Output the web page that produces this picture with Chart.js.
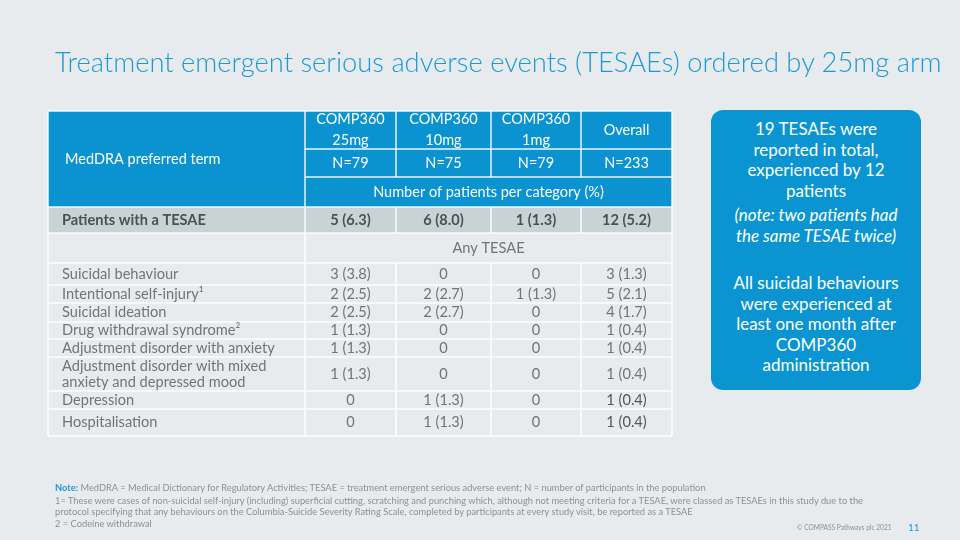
<!DOCTYPE html>
<html lang="en">
<head>
    <meta charset="UTF-8">
    <title>TESAEs ordered by 25mg arm</title>
    <style>
        body {
            margin: 0;
            width: 960px;
            height: 540px;
            background: #e8ebee;
            font-family: Lato, "Open Sans", sans-serif;
            position: relative;
            overflow: hidden;
        }
        #table {
            position: absolute;
            left: 0;
            top: 0;
        }
        .title {
            position: absolute;
            left: 55px;
            top: 62px;
            transform: translateY(-50%);
            font-size: 28px;
            font-weight: 300;
            line-height: 34px;
            color: #1b9ad6;
            white-space: nowrap;
        }
        .box {
            position: absolute;
            left: 711px;
            top: 110px;
            width: 210px;
            height: 280px;
            border-radius: 12px;
            background: #0a95d2;
            color: #fff;
            text-align: center;
            font-size: 17px;
            line-height: 20.5px;
            box-sizing: border-box;
            padding-top: 9px;
        }
        .box .note {
            font-style: italic;
            margin-top: 4px;
        }
        .box .second {
            margin-top: 27px;
        }
        .foot {
            position: absolute;
            left: 55px;
            top: 482px;
            font-size: 9.3px;
            line-height: 11.7px;
            color: #8c9196;
            width: 880px;
            white-space: nowrap;
        }
        .foot b {
            color: #1b9ad6;
        }
        .copy {
            position: absolute;
            left: 797px;
            top: 523px;
            font-size: 6.6px;
            color: #8c9196;
            white-space: nowrap;
        }
        .page {
            position: absolute;
            left: 908px;
            top: 521px;
            font-size: 10px;
            color: #1b9ad6;
        }
    </style>
</head>
<body>
    <canvas id="table" width="960" height="540"></canvas>

    <div class="title" id="title">Treatment emergent serious adverse events (TESAEs) ordered by 25mg arm</div>

    <div class="box">
        <div>19 TESAEs were<br>reported in total,<br>experienced by 12<br>patients</div>
        <div class="note">(note: two patients had<br>the same TESAE twice)</div>
        <div class="second">All suicidal behaviours<br>were experienced at<br>least one month after<br>COMP360<br>administration</div>
    </div>

    <div class="foot">
        <div><b>Note:</b> MedDRA = Medical Dictionary for Regulatory Activities; TESAE = treatment emergent serious adverse event; N = number of participants in the population</div>
        <div style="margin-top:1px">1= These were cases of non-suicidal self-injury (including) superficial cutting, scratching and punching which, although not meeting criteria for a TESAE, were classed as TESAEs in this study due to the<br>protocol specifying that any behaviours on the Columbia-Suicide Severity Rating Scale, completed by participants at every study visit, be reported as a TESAE</div>
        <div>2 = Codeine withdrawal</div>
    </div>
    <div class="copy">© COMPASS Pathways plc 2021</div>
    <div class="page">11</div>

    <script src="https://cdn.jsdelivr.net/npm/chart.js"></script>
    <script>
        // Dữ liệu bảng
        const armNames = ['COMP360\n25mg', 'COMP360\n10mg', 'COMP360\n1mg', 'Overall'];
        const armN = [79, 75, 79, 233];
        const anyCount = [5, 6, 1, 12];
        const anyPct = [6.3, 8.0, 1.3, 5.2];

        const terms = [
            'Suicidal behaviour',
            'Intentional self-injury¹',
            'Suicidal ideation',
            'Drug withdrawal syndrome²',
            'Adjustment disorder with anxiety',
            'Adjustment disorder with mixed\nanxiety and depressed mood',
            'Depression',
            'Hospitalisation'
        ];
        const count25 = [3, 2, 2, 1, 1, 1, 0, 0];
        const pct25 = [3.8, 2.5, 2.5, 1.3, 1.3, 1.3, 0, 0];
        const count10 = [0, 2, 2, 0, 0, 0, 1, 1];
        const pct10 = [0, 2.7, 2.7, 0, 0, 0, 1.3, 1.3];
        const count1 = [0, 1, 0, 0, 0, 0, 0, 0];
        const pct1 = [0, 1.3, 0, 0, 0, 0, 0, 0];
        const countAll = [3, 5, 4, 1, 1, 1, 1, 1];
        const pctAll = [1.3, 2.1, 1.7, 0.4, 0.4, 0.4, 0.4, 0.4];

        // Bố cục (đơn vị của trục)
        const colEdges = [0, 257, 348, 443, 533, 624];
        const rowEdges = [0, 38, 66, 96, 122, 152, 174, 192, 211, 228, 246, 280, 298, 325];

        const styles = {
            header: { font: '14.5px Lato', color: '#ffffff', lh: 21 },
            bold: { font: 'bold 14.6px Lato', color: '#4a5057', lh: 16 },
            body: { font: '14.6px Lato', color: '#707579', lh: 16 },
            dark: { font: '14.6px Lato', color: '#50565c', lh: 16 }
        };

        // Thu nhỏ tiêu đề cho vừa chiều rộng như bản gốc
        const titleEl = document.getElementById('title');
        titleEl.style.fontSize = (28 * 887 / titleEl.scrollWidth).toFixed(2) + 'px';

        function fmt(n, p) {
            return n === 0 ? '0' : n + ' (' + p.toFixed(1) + ')';
        }

        // Tạo danh sách ô: cột từ c0 đến c1, hàng từ r0 đến r1
        const cells = [];
        function addCell(c0, c1, r0, r1, text, style, align) {
            cells.push({ c0, c1, r0, r1, text, style, align: align || 'center' });
        }

        addCell(0, 1, 0, 3, 'MedDRA preferred term', 'header', 'left');
        armNames.forEach((name, i) => {
            addCell(i + 1, i + 2, 0, 1, name, 'header');
            addCell(i + 1, i + 2, 1, 2, 'N=' + armN[i], 'header');
        });
        addCell(1, 5, 2, 3, 'Number of patients per category (%)', 'header');
        addCell(0, 1, 3, 4, 'Patients with a TESAE', 'bold', 'left');
        anyCount.forEach((n, i) => addCell(i + 1, i + 2, 3, 4, fmt(n, anyPct[i]), 'bold'));
        addCell(1, 5, 4, 5, 'Any TESAE', 'body');

        const armCols = [[count25, pct25], [count10, pct10], [count1, pct1], [countAll, pctAll]];
        terms.forEach((term, r) => {
            addCell(0, 1, r + 5, r + 6, term, 'body', 'left');
            armCols.forEach(([cnt, pct], i) => {
                const st = (i === 3 && r >= 6) ? 'dark' : 'body';
                addCell(i + 1, i + 2, r + 5, r + 6, fmt(cnt[r], pct[r]), st);
            });
        });

        const points = cells.map(c => ({
            x: c.align === 'left' ? colEdges[c.c0] + (c.style === 'header' ? 17 : 14) : (colEdges[c.c0] + colEdges[c.c1]) / 2,
            y: (rowEdges[c.r0] + rowEdges[c.r1]) / 2
        }));

        // Plugin vẽ nền, đường kẻ và chữ của bảng
        const tablePlugin = {
            id: 'tablePlugin',
            beforeDatasetsDraw(chart) {
                const ctx = chart.ctx;
                const xs = chart.scales.x, ys = chart.scales.y;
                const X = v => xs.getPixelForValue(v);
                const Y = v => ys.getPixelForValue(v);

                ctx.save();
                ctx.fillStyle = '#0a93d0';
                ctx.fillRect(X(0), Y(rowEdges[0]), X(624) - X(0), Y(rowEdges[3]) - Y(rowEdges[0]));
                ctx.fillStyle = '#c9d3d6';
                ctx.fillRect(X(0), Y(rowEdges[3]), X(624) - X(0), Y(rowEdges[4]) - Y(rowEdges[3]));

                ctx.strokeStyle = 'rgba(255,255,255,0.9)';
                ctx.lineWidth = 1.5;
                const hline = (r, c0, c1) => {
                    ctx.beginPath();
                    ctx.moveTo(X(colEdges[c0]), Y(rowEdges[r]));
                    ctx.lineTo(X(colEdges[c1]), Y(rowEdges[r]));
                    ctx.stroke();
                };
                const vline = (c, r0, r1) => {
                    ctx.beginPath();
                    ctx.moveTo(X(colEdges[c]), Y(rowEdges[r0]));
                    ctx.lineTo(X(colEdges[c]), Y(rowEdges[r1]));
                    ctx.stroke();
                };
                rowEdges.forEach((_, r) => {
                    if (r === 1 || r === 2) hline(r, 1, 5);
                    else hline(r, 0, 5);
                });
                vline(0, 0, 13);
                vline(1, 0, 13);
                vline(5, 0, 13);
                [2, 3, 4].forEach(c => {
                    vline(c, 0, 2);
                    vline(c, 3, 4);
                    vline(c, 5, 13);
                });
                ctx.restore();
            },
            afterDatasetsDraw(chart) {
                const ctx = chart.ctx;
                const meta = chart.getDatasetMeta(0);
                ctx.save();
                ctx.textBaseline = 'middle';
                meta.data.forEach((pt, i) => {
                    const c = cells[i];
                    const st = styles[c.style];
                    ctx.font = st.font;
                    ctx.fillStyle = st.color;
                    ctx.textAlign = c.align;
                    const lines = c.text.split('\n');
                    const y0 = pt.y - (lines.length - 1) * st.lh / 2;
                    lines.forEach((line, k) => ctx.fillText(line, pt.x, y0 + k * st.lh));
                });
                ctx.restore();
            }
        };

        new Chart(document.getElementById('table'), {
            type: 'scatter',
            data: {
                datasets: [{
                    label: 'cells',
                    data: points,
                    pointRadius: 0,
                    pointHoverRadius: 0
                }]
            },
            options: {
                responsive: false,
                animation: false,
                events: [],
                layout: { padding: { left: 48, top: 111, right: 288, bottom: 104 } },
                scales: {
                    x: { type: 'linear', min: 0, max: 624, display: false },
                    y: { type: 'linear', min: 0, max: 325, reverse: true, display: false }
                },
                plugins: {
                    legend: { display: false },
                    tooltip: { enabled: false }
                }
            },
            plugins: [tablePlugin]
        });
    </script>
</body>
</html>
